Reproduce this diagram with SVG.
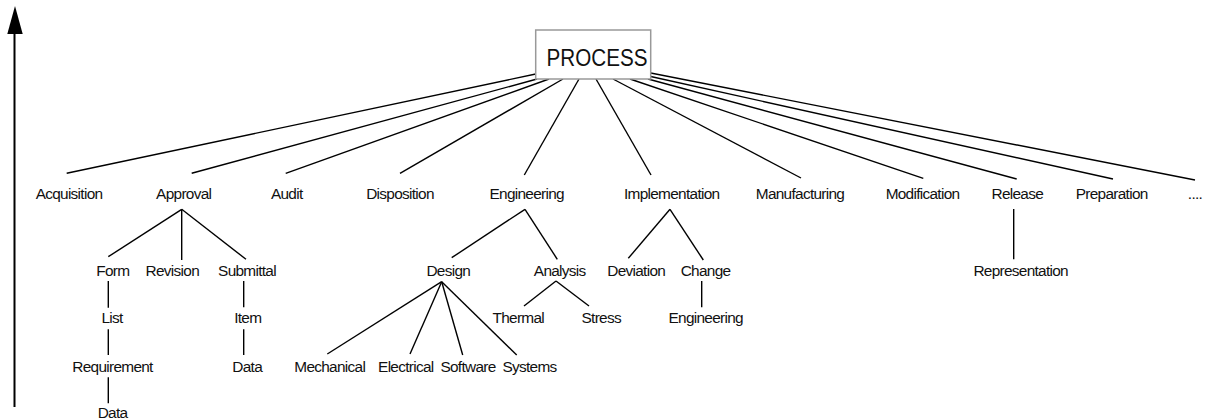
<svg xmlns="http://www.w3.org/2000/svg" width="1205" height="420" viewBox="0 0 1205 420">
<style>
  text { font-family: "Liberation Sans", Arial, sans-serif; fill: #111; }
  .lbl { font-size: 15.4px; letter-spacing: -0.7px; text-anchor: middle; }
  .root { font-size: 24.5px; text-anchor: middle; }
  .box { fill: #fff; stroke: #999; stroke-width: 1.5; }
  .edge { stroke: #000; stroke-width: 1.4; fill: none; }
  .axis { stroke: #000; stroke-width: 2; fill: none; }
  .head { fill: #000; }
</style>
<rect width="1205" height="420" fill="#fff"/>

<g id="axis">
  <line class="axis" x1="14.5" y1="407" x2="14.5" y2="34"/>
  <path class="head" d="M7.3,34 L15,6 L22.7,34 Z"/>
</g>

<g id="connectors">
  <line class="edge" x1="535.7" y1="74" x2="66.7" y2="173.3"/>
  <line class="edge" x1="537" y1="79" x2="191.7" y2="173.3"/>
  <line class="edge" x1="549" y1="79" x2="285.7" y2="173.3"/>
  <line class="edge" x1="563" y1="79" x2="400" y2="173.3"/>
  <line class="edge" x1="579" y1="79" x2="524.3" y2="175"/>
  <line class="edge" x1="596" y1="79" x2="651" y2="175"/>
  <line class="edge" x1="613" y1="79" x2="801" y2="178"/>
  <line class="edge" x1="630" y1="79" x2="923.3" y2="178.3"/>
  <line class="edge" x1="648" y1="79" x2="1016.7" y2="179"/>
  <line class="edge" x1="650.7" y1="76.5" x2="1113" y2="179"/>
  <line class="edge" x1="650.7" y1="73" x2="1195" y2="180"/>

  <line class="edge" x1="181.7" y1="209.3" x2="108.3" y2="256.7"/>
  <line class="edge" x1="181.7" y1="209.3" x2="181.7" y2="260"/>
  <line class="edge" x1="181.7" y1="209.3" x2="246" y2="259.3"/>
  <line class="edge" x1="108.3" y1="281" x2="108.3" y2="307.7"/>
  <line class="edge" x1="108.3" y1="329.3" x2="108.3" y2="355"/>
  <line class="edge" x1="108.3" y1="377.3" x2="108.3" y2="403.3"/>
  <line class="edge" x1="243.7" y1="281" x2="243.7" y2="307.3"/>
  <line class="edge" x1="243.7" y1="329.3" x2="243.7" y2="355"/>

  <line class="edge" x1="525" y1="209.3" x2="451.7" y2="257.7"/>
  <line class="edge" x1="525" y1="209.3" x2="557.3" y2="259.3"/>
  <line class="edge" x1="441.7" y1="281.7" x2="327.3" y2="354"/>
  <line class="edge" x1="441.7" y1="281.7" x2="410" y2="354"/>
  <line class="edge" x1="441.7" y1="281.7" x2="462.7" y2="355"/>
  <line class="edge" x1="441.7" y1="281.7" x2="516.7" y2="355"/>
  <line class="edge" x1="556" y1="281" x2="524" y2="306"/>
  <line class="edge" x1="556" y1="281" x2="589" y2="306"/>

  <line class="edge" x1="670" y1="209.3" x2="628.3" y2="258.3"/>
  <line class="edge" x1="670" y1="209.3" x2="703.3" y2="260"/>
  <line class="edge" x1="701.7" y1="281" x2="701.7" y2="307.3"/>

  <line class="edge" x1="1013.7" y1="209" x2="1013.7" y2="259.3"/>
</g>

<g id="process">
  <rect class="box" x="535.7" y="30" width="115" height="49"/>
  <text class="root" x="597" y="66" textLength="101" lengthAdjust="spacingAndGlyphs">PROCESS</text>
</g>

<g id="acquisition"><text class="lbl" x="69" y="199">Acquisition</text></g>
<g id="approval"><text class="lbl" x="183.7" y="199">Approval</text></g>
<g id="audit"><text class="lbl" x="286.7" y="199">Audit</text></g>
<g id="disposition"><text class="lbl" x="400" y="199">Disposition</text></g>
<g id="engineering"><text class="lbl" x="526.7" y="199">Engineering</text></g>
<g id="implementation"><text class="lbl" x="671.7" y="199">Implementation</text></g>
<g id="manufacturing"><text class="lbl" x="800" y="199">Manufacturing</text></g>
<g id="modification"><text class="lbl" x="922.5" y="199">Modification</text></g>
<g id="release"><text class="lbl" x="1017.3" y="199">Release</text></g>
<g id="preparation"><text class="lbl" x="1111.7" y="199">Preparation</text></g>
<g id="more"><text class="lbl" x="1195" y="199">....</text></g>

<g id="form"><text class="lbl" x="112.8" y="276">Form</text></g>
<g id="revision"><text class="lbl" x="172.3" y="276">Revision</text></g>
<g id="submittal"><text class="lbl" x="247" y="276">Submittal</text></g>
<g id="design"><text class="lbl" x="448.3" y="276">Design</text></g>
<g id="analysis"><text class="lbl" x="559.7" y="276">Analysis</text></g>
<g id="deviation"><text class="lbl" x="636.2" y="276">Deviation</text></g>
<g id="change"><text class="lbl" x="705.5" y="276">Change</text></g>
<g id="representation"><text class="lbl" x="1020.7" y="276">Representation</text></g>

<g id="list"><text class="lbl" x="112" y="323">List</text></g>
<g id="item"><text class="lbl" x="247.7" y="323">Item</text></g>
<g id="thermal"><text class="lbl" x="518.3" y="323">Thermal</text></g>
<g id="stress"><text class="lbl" x="601.2" y="323">Stress</text></g>
<g id="change-engineering"><text class="lbl" x="705.7" y="323">Engineering</text></g>

<g id="requirement"><text class="lbl" x="112.5" y="371.7">Requirement</text></g>
<g id="item-data"><text class="lbl" x="247.2" y="371.7">Data</text></g>
<g id="mechanical"><text class="lbl" x="329.7" y="371.7">Mechanical</text></g>
<g id="electrical"><text class="lbl" x="405.8" y="371.7">Electrical</text></g>
<g id="software"><text class="lbl" x="468" y="371.7">Software</text></g>
<g id="systems"><text class="lbl" x="529.5" y="371.7">Systems</text></g>

<g id="requirement-data"><text class="lbl" x="112.5" y="418">Data</text></g>
</svg>
